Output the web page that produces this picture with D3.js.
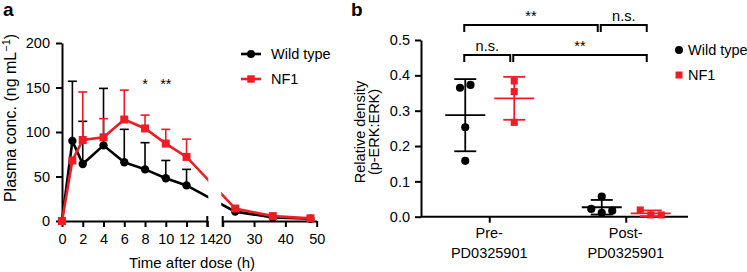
<!DOCTYPE html>
<html>
<head>
<meta charset="utf-8">
<script src="https://cdn.jsdelivr.net/npm/d3@7"></script>
<style>
  body { margin: 0; background: #fff; }
  svg { font-family: "Liberation Sans", Arial, Helvetica, sans-serif; }
</style>
</head>
<body>
<svg width="747" height="272"></svg>
<script>
// ---- panel a: plasma concentration over time (mean + SD) ----
var times   = [0, 1, 2, 4, 6, 8, 10, 12, 24, 36, 48];
var wtMean  = [0, 90, 64, 85, 66, 58, 48, 40, 10.5, 4, 2.5];
var wtSD    = [0, 67, 48, 64, 37, 30, 20, 18, 0, 0, 0];
var nfMean  = [0, 68, 91, 94, 114, 104, 87, 72, 14, 5.5, 3];
var nfSD    = [0, 0, 54, 21, 33, 15, 16, 20, 0, 0, 0];
var sigTimes  = [8, 10];
var sigLabels = ["*", "**"];
var xTicksA1 = [0, 2, 4, 6, 8, 10, 12, 14];
var xTicksA2 = [20, 30, 40, 50];
var yTicksA  = [0, 50, 100, 150, 200];

// ---- panel b: p-ERK:ERK relative density ----
var groups      = ["Pre", "Post"];
var groupLabels = [["Pre-", "PD0325901"], ["Post-", "PD0325901"]];
var seriesNames = ["Wild type", "NF1"];
var wtPre  = [0.365, 0.373, 0.253, 0.158];
var wtPost = [0.057, 0.022, 0.011, 0.017];
var nfPre  = [0.384, 0.354, 0.267];
var nfPost = [0.019, 0.005, 0.005];
var yTicksB = [0, 0.1, 0.2, 0.3, 0.4, 0.5];
var brackets = [
  {from: ["Pre", "Wild type"],  to: ["Post", "Wild type"], level: 1, label: "**"},
  {from: ["Post", "Wild type"], to: ["Post", "NF1"],       level: 1, label: "n.s."},
  {from: ["Pre", "Wild type"],  to: ["Pre", "NF1"],        level: 0, label: "n.s."},
  {from: ["Pre", "NF1"],        to: ["Post", "NF1"],       level: 0, label: "**"}
];

var svg = d3.select("svg");
var red = "#ee1c24";
var fs = 14.5;

function symbolPath(shape, size) {
  return d3.symbol().type(shape == "circle" ? d3.symbolCircle : d3.symbolSquare).size(size)();
}

// ================= panel a =================
var yA  = d3.scaleLinear().domain([0, 200]).range([221, 43]);
var xA  = d3.scaleLinear().domain([0, 14, 20, 50]).range([62, 207.3, 222.7, 316.7]);
var xA1 = d3.scaleLinear().domain([0, 14]).range([62, 207.3]);
var xA2 = d3.scaleLinear().domain([20, 50]).range([222.7, 316.7]);

var ga = svg.append("g");

ga.append("text").attr("x", 3).attr("y", 16)
  .attr("font-size", 19).attr("font-weight", "bold").text("a");

// axes
ga.append("g")
  .attr("transform", "translate(" + xA(0) + ",0)")
  .call(d3.axisLeft(yA).tickValues(yTicksA).tickSize(6).tickSizeOuter(0).tickPadding(6));

ga.append("g")
  .attr("transform", "translate(0," + yA(0) + ")")
  .call(d3.axisBottom(xA1).tickValues(xTicksA1).tickSize(6).tickSizeOuter(0).tickPadding(7));
ga.append("g")
  .attr("transform", "translate(0," + yA(0) + ")")
  .call(d3.axisBottom(xA2).tickValues(xTicksA2).tickSize(6).tickSizeOuter(0).tickPadding(7));

// break caps at 14 and 20
[xA1(14), xA2(20)].forEach(function(x) {
  ga.append("line").attr("x1", x).attr("x2", x)
    .attr("y1", yA(0) - 5).attr("y2", yA(0) + 6)
    .attr("stroke", "#000").attr("stroke-width", 2);
});

ga.selectAll(".domain, .tick line").attr("stroke", "#000").attr("stroke-width", 2);
ga.selectAll(".tick text").attr("font-size", fs).attr("font-family", null).attr("fill", "#000");

// axis titles
ga.append("text").attr("x", 192).attr("y", 268)
  .attr("text-anchor", "middle").attr("font-size", 15).text("Time after dose (h)");

var yt = ga.append("text").attr("transform", "translate(15.5,118) rotate(-90)")
  .attr("text-anchor", "middle").attr("font-size", 16);
yt.append("tspan").text("Plasma conc. (ng mL");
yt.append("tspan").attr("font-size", 11).attr("dy", -6).text("\u22121");
yt.append("tspan").attr("dy", 6).text(")");

// clip so the connecting line skips the axis break
var clip = svg.append("defs").append("clipPath").attr("id", "brk");
clip.append("rect").attr("x", 0).attr("y", 0).attr("width", xA1(14) + 1).attr("height", 272);
clip.append("rect").attr("x", xA2(20) - 1.5).attr("y", 0).attr("width", 200).attr("height", 272);

var seriesA = [
  {name: "Wild type", mean: wtMean, sd: wtSD, color: "#000", shape: "circle"},
  {name: "NF1",       mean: nfMean, sd: nfSD, color: red,    shape: "square"}
];

var line = d3.line()
  .x(function(d) { return xA(d.t); })
  .y(function(d) { return yA(d.m); });

seriesA.forEach(function(s) {
  var pts = times.map(function(t, i) { return {t: t, m: s.mean[i], sd: s.sd[i]}; });
  var g = ga.append("g");

  // error bars (upper only)
  var eb = g.selectAll(".eb").data(pts.filter(function(d) { return d.sd > 0; })).enter().append("g");
  eb.append("line")
    .attr("x1", function(d) { return xA(d.t); }).attr("x2", function(d) { return xA(d.t); })
    .attr("y1", function(d) { return yA(d.m); }).attr("y2", function(d) { return yA(d.m + d.sd); })
    .attr("stroke", s.color).attr("stroke-width", 1.6);
  eb.append("line")
    .attr("x1", function(d) { return xA(d.t) - 4.5; }).attr("x2", function(d) { return xA(d.t) + 4.5; })
    .attr("y1", function(d) { return yA(d.m + d.sd); }).attr("y2", function(d) { return yA(d.m + d.sd); })
    .attr("stroke", s.color).attr("stroke-width", 1.6);

  g.append("path").datum(pts)
    .attr("clip-path", "url(#brk)")
    .attr("fill", "none").attr("stroke", s.color).attr("stroke-width", 2.6)
    .attr("d", line);

  g.selectAll(".pt").data(pts).enter().append("path")
    .attr("transform", function(d) { return "translate(" + xA(d.t) + "," + yA(d.m) + ")"; })
    .attr("d", symbolPath(s.shape, s.shape == "circle" ? 55 : 64))
    .attr("fill", s.color);
});

// significance marks
ga.selectAll(".sig").data(sigTimes).enter().append("text")
  .attr("x", function(d) { return xA(d); }).attr("y", 89)
  .attr("text-anchor", "middle").attr("font-size", fs)
  .text(function(d, i) { return sigLabels[i]; });

// legend a
seriesA.forEach(function(s, i) {
  var ly = 54 + i * 25;
  ga.append("line").attr("x1", 241).attr("x2", 261).attr("y1", ly).attr("y2", ly)
    .attr("stroke", s.color).attr("stroke-width", 2.6);
  ga.append("path").attr("transform", "translate(251," + ly + ")")
    .attr("d", symbolPath(s.shape, s.shape == "circle" ? 50 : 56)).attr("fill", s.color);
  ga.append("text").attr("x", 271).attr("y", ly).attr("dy", "0.35em")
    .attr("font-size", fs).text(s.name);
});

// ================= panel b =================
var yB = d3.scaleLinear().domain([0, 0.5]).range([216.7, 40]);
var xB = d3.scalePoint().domain(groups).range([421, 694]).padding(0.5);
var off = d3.scalePoint().domain(seriesNames).range([-24, 25]);

var gb = svg.append("g");

gb.append("text").attr("x", 351).attr("y", 16)
  .attr("font-size", 19).attr("font-weight", "bold").text("b");

gb.append("g").attr("transform", "translate(421,0)")
  .call(d3.axisLeft(yB).tickValues(yTicksB).tickFormat(d3.format(".1f")).tickSize(6).tickSizeOuter(0).tickPadding(5));

var xAxisB = gb.append("g").attr("transform", "translate(0," + yB(0) + ")")
  .call(d3.axisBottom(xB).tickSize(6).tickFormat(""));
xAxisB.select(".domain").remove();
xAxisB.append("line").attr("x1", 421).attr("x2", 688).attr("y1", 0).attr("y2", 0)
  .attr("stroke", "#000").attr("stroke-width", 2);

gb.selectAll(".domain, .tick line").attr("stroke", "#000").attr("stroke-width", 2);
gb.selectAll(".tick text").attr("font-size", fs).attr("font-family", null).attr("fill", "#000");

// category labels
groups.forEach(function(g, i) {
  var t = gb.append("text").attr("text-anchor", "middle").attr("font-size", fs);
  t.append("tspan").attr("x", xB(g)).attr("y", 238).text(groupLabels[i][0]);
  t.append("tspan").attr("x", xB(g)).attr("y", 258).text(groupLabels[i][1]);
});

// y title
gb.append("text").attr("transform", "translate(365,132) rotate(-90)")
  .attr("text-anchor", "middle").attr("font-size", fs).text("Relative density");
gb.append("text").attr("transform", "translate(379,132) rotate(-90)")
  .attr("text-anchor", "middle").attr("font-size", fs).text("(p-ERK:ERK)");

var cells = [
  {group: "Pre",  series: "Wild type", vals: wtPre,  color: "#000", shape: "circle"},
  {group: "Pre",  series: "NF1",       vals: nfPre,  color: red,    shape: "square"},
  {group: "Post", series: "Wild type", vals: wtPost, color: "#000", shape: "circle"},
  {group: "Post", series: "NF1",       vals: nfPost, color: red,    shape: "square"}
];

// spread points whose markers would overlap vertically
function swarm(vals, gap, spacing) {
  var idx = vals.map(function(v, i) { return i; }).sort(function(a, b) { return vals[a] - vals[b]; });
  var clusters = [], cur = [];
  idx.forEach(function(i, k) {
    if (k > 0 && Math.abs(yB(vals[i]) - yB(vals[idx[k - 1]])) >= gap) { clusters.push(cur); cur = []; }
    cur.push(i);
  });
  clusters.push(cur);
  var dx = vals.map(function() { return 0; });
  clusters.forEach(function(c) {
    c.sort(function(a, b) { return a - b; });
    c.forEach(function(i, j) { dx[i] = (j - (c.length - 1) / 2) * spacing; });
  });
  return dx;
}

cells.forEach(function(c) {
  var cx = xB(c.group) + off(c.series);
  var m = d3.mean(c.vals), sd = d3.deviation(c.vals);
  var g = gb.append("g");
  var dx = swarm(c.vals, 8, 10.5);

  g.selectAll(".pt").data(c.vals).enter().append("path")
    .attr("transform", function(d, i) { return "translate(" + (cx + dx[i]) + "," + yB(d) + ")"; })
    .attr("d", symbolPath(c.shape, c.shape == "circle" ? 52 : 50))
    .attr("fill", c.color);

  g.append("line").attr("x1", cx).attr("x2", cx).attr("y1", yB(m - sd)).attr("y2", yB(m + sd))
    .attr("stroke", c.color).attr("stroke-width", 1.8);
  [m - sd, m + sd].forEach(function(v) {
    g.append("line").attr("x1", cx - 11).attr("x2", cx + 11).attr("y1", yB(v)).attr("y2", yB(v))
      .attr("stroke", c.color).attr("stroke-width", 1.8);
  });
  g.append("line").attr("x1", cx - 20).attr("x2", cx + 20).attr("y1", yB(m)).attr("y2", yB(m))
    .attr("stroke", c.color).attr("stroke-width", 1.8);
});

// significance brackets
brackets.forEach(function(b) {
  var x1 = xB(b.from[0]) + off(b.from[1]) - 1;
  var x2 = xB(b.to[0]) + off(b.to[1]) - 4;
  var y = yB(0.5) + 15 - 30 * b.level;
  gb.append("path")
    .attr("d", "M" + x1 + "," + (y + 7) + "V" + y + "H" + x2 + "V" + (y + 7))
    .attr("fill", "none").attr("stroke", "#000").attr("stroke-width", 2);
  gb.append("text").attr("x", (x1 + x2) / 2).attr("y", y - 4)
    .attr("text-anchor", "middle").attr("font-size", fs).text(b.label);
});

// legend b
seriesNames.forEach(function(n, i) {
  var ly = 50 + i * 25;
  gb.append("path").attr("transform", "translate(679," + ly + ")")
    .attr("d", symbolPath(i == 0 ? "circle" : "square", i == 0 ? 50 : 49))
    .attr("fill", i == 0 ? "#000" : red);
  gb.append("text").attr("x", 688).attr("y", ly).attr("dy", "0.35em")
    .attr("font-size", fs).text(n);
});
</script>
</body>
</html>
